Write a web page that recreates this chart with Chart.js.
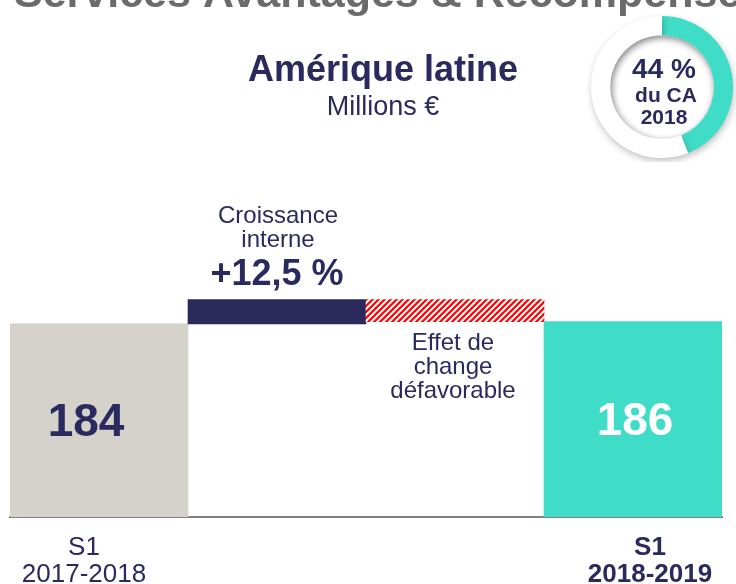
<!DOCTYPE html>
<html lang="fr">
<head>
<meta charset="utf-8">
<title>Amérique latine</title>
<script src="https://cdn.jsdelivr.net/npm/chart.js@4.4.1/dist/chart.umd.min.js"></script>
<style>
  html, body { margin: 0; padding: 0; background: #fff; }
  #wrap { position: relative; width: 736px; height: 584px; overflow: hidden; }
  #mainChart { position: absolute; left: 0; top: 0; }
  #donut { position: absolute; left: 587px; top: 12px; }
</style>
</head>
<body>
<div id="wrap">
  <canvas id="mainChart" width="736" height="584"></canvas>
  <canvas id="donut" width="150" height="150"></canvas>
</div>
<script>
// données du graphique (millions €)
const categories = ['S1 2017-2018', 'Croissance interne', 'Effet de change', 'S1 2018-2019'];
const steps = [184, 23, -21, 186];          // totaux et variations
const isTotal = [true, false, false, true];
const yMin = 0;
const yMax = 260;
const growthLabel = '+12,5 %';
const shareCA = [44, 56];                    // part du CA 2018 (%)

const FONT = "'Liberation Sans', Arial, sans-serif";
const NAVY = '#2b2a5e';
const TEAL = '#3fdcc8';
const GREY = '#d5d2cb';

// motif hachuré rouge pour l'effet de change
function makeHatch() {
    const s = 6;
    const c = document.createElement('canvas');
    c.width = s; c.height = s;
    const g = c.getContext('2d');
    g.fillStyle = '#fff';
    g.fillRect(0, 0, s, s);
    g.strokeStyle = '#ff0000';
    g.lineWidth = 2.2;
    g.beginPath();
    g.moveTo(0, s); g.lineTo(s, 0);
    g.moveTo(-1, 1); g.lineTo(1, -1);
    g.moveTo(s - 1, s + 1); g.lineTo(s + 1, s - 1);
    g.stroke();
    return g.createPattern(c, 'repeat');
}

// barres flottantes (cascade)
let running = 0;
const floating = steps.map((v, i) => {
    if (isTotal[i]) { running = v; return [0, v]; }
    const bar = [running, running + v];
    running += v;
    return bar;
});

const ctxMain = document.getElementById('mainChart').getContext('2d');
const barColors = [GREY, '#29295b', makeHatch(), TEAL];

function text(ctx, str, x, y, size, bold, color, align) {
    ctx.font = (bold ? 'bold ' : '') + size + 'px ' + FONT;
    ctx.fillStyle = color;
    ctx.textAlign = align || 'center';
    ctx.textBaseline = 'middle';
    ctx.fillText(str, x, y);
}

// textes autour des barres
const labelsPlugin = {
    id: 'labels',
    afterDraw(chart) {
        const ctx = chart.ctx;
        const xs = chart.scales.x;
        const ys = chart.scales.y;
        ctx.save();

        // titre de la diapositive (coupé en haut)
        ctx.font = 'bold 43px ' + FONT;
        ctx.fillStyle = '#6b6b6b';
        ctx.textAlign = 'left';
        ctx.textBaseline = 'alphabetic';
        ctx.fillText('Services Avantages & Récompenses', 14, 7);

        text(ctx, 'Amérique latine', 383, 71, 36, true, NAVY);
        text(ctx, 'Millions €', 383, 108, 27, false, NAVY);

        // valeurs dans les barres totales
        text(ctx, String(steps[0]), xs.getPixelForValue(0) - 13, ys.getPixelForValue(steps[0] / 2) + 3, 46, true, NAVY);
        text(ctx, String(steps[3]), xs.getPixelForValue(3) + 2, ys.getPixelForValue(steps[3] / 2) + 3, 46, true, '#fff');

        // croissance interne
        const topGrowth = ys.getPixelForValue(floating[1][1]);
        const xg = xs.getPixelForValue(1);
        text(ctx, 'Croissance', xg + 1, topGrowth - 83, 24, false, NAVY);
        text(ctx, 'interne', xg + 1, topGrowth - 59, 24, false, NAVY);
        text(ctx, growthLabel, xg, topGrowth - 25, 36, true, NAVY);

        // effet de change
        const botFx = ys.getPixelForValue(floating[2][1]);
        const xf = xs.getPixelForValue(2) - 2;
        text(ctx, 'Effet de', xf, botFx + 22, 24, false, NAVY);
        text(ctx, 'change', xf, botFx + 46, 24, false, NAVY);
        text(ctx, 'défavorable', xf, botFx + 70, 24, false, NAVY);

        // libellés des périodes sous l'axe
        const axisY = ys.getPixelForValue(0);
        const x0 = xs.getPixelForValue(0) - 15;
        const x3 = xs.getPixelForValue(3) + 17;
        text(ctx, 'S1', x0, axisY + 31, 26, false, NAVY);
        text(ctx, '2017-2018', x0, axisY + 58, 26, false, NAVY);
        text(ctx, 'S1', x3, axisY + 31, 26, true, NAVY);
        text(ctx, '2018-2019', x3, axisY + 58, 26, true, NAVY);

        ctx.restore();
    }
};

new Chart(ctxMain, {
    type: 'bar',
    data: {
        labels: categories,
        datasets: [{
            data: floating,
            backgroundColor: barColors,
            borderWidth: 0,
            barPercentage: 1,
            categoryPercentage: 1
        }]
    },
    options: {
        responsive: false,
        animation: false,
        layout: { padding: { left: 10, right: 14, top: 244, bottom: 67 } },
        scales: {
            x: {
                grid: { display: false, drawTicks: false },
                ticks: { display: false },
                border: { color: '#808080', width: 2 }
            },
            y: { display: false, min: yMin, max: yMax }
        },
        plugins: {
            legend: { display: false },
            tooltip: { enabled: false }
        }
    },
    plugins: [labelsPlugin]
});

// anneau "44 % du CA 2018"
const donutPlugin = {
    id: 'donutDeco',
    beforeDatasetsDraw(chart) {
        const ctx = chart.ctx;
        ctx.save();
        ctx.shadowColor = 'rgba(0,0,0,0.25)';
        ctx.shadowBlur = 7;
        ctx.shadowOffsetX = 1;
        ctx.shadowOffsetY = 3;
    },
    afterDatasetsDraw(chart) {
        const ctx = chart.ctx;
        ctx.restore();
        const arc = chart.getDatasetMeta(0).data[0];
        // ombre intérieure
        ctx.save();
        ctx.beginPath();
        ctx.arc(arc.x, arc.y, arc.innerRadius, 0, Math.PI * 2);
        ctx.clip();
        ctx.shadowColor = 'rgba(0,0,0,0.3)';
        ctx.shadowBlur = 7;
        ctx.shadowOffsetX = 2;
        ctx.shadowOffsetY = 2;
        ctx.beginPath();
        ctx.arc(arc.x, arc.y, arc.innerRadius + 10, 0, Math.PI * 2);
        ctx.lineWidth = 20;
        ctx.strokeStyle = '#fff';
        ctx.stroke();
        ctx.restore();

        ctx.save();
        text(ctx, shareCA[0] + ' %', arc.x + 2, arc.y - 17, 28, true, NAVY);
        text(ctx, 'du CA', arc.x + 4, arc.y + 9, 21, true, NAVY);
        text(ctx, '2018', arc.x + 2, arc.y + 31, 21, true, NAVY);
        ctx.restore();
    }
};

new Chart(document.getElementById('donut').getContext('2d'), {
    type: 'doughnut',
    data: {
        labels: ['Amérique latine', 'Autres'],
        datasets: [{
            data: shareCA,
            backgroundColor: [TEAL, '#ffffff'],
            borderWidth: 0
        }]
    },
    options: {
        responsive: false,
        animation: false,
        cutout: '73%',
        layout: { padding: 4 },
        plugins: {
            legend: { display: false },
            tooltip: { enabled: false }
        }
    },
    plugins: [donutPlugin]
});
</script>
</body>
</html>
